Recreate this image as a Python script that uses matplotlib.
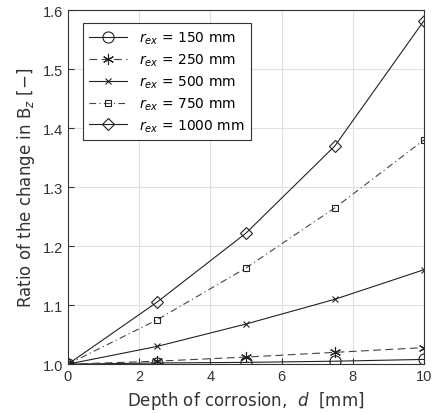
import matplotlib
matplotlib.use("Agg")
import matplotlib.pyplot as plt

plt.rcParams["font.family"] = ["DejaVu Sans"]
plt.rcParams["mathtext.fontset"] = "dejavusans"

depth = [0, 2.5, 5, 7.5, 10]
r150 = [1.0, 1.002, 1.003, 1.005, 1.008]
r250 = [1.0, 1.005, 1.012, 1.020, 1.028]
r500 = [1.0, 1.030, 1.068, 1.110, 1.160]
r750 = [1.0, 1.075, 1.163, 1.265, 1.380]
r1000 = [1.0, 1.105, 1.222, 1.370, 1.582]
labels = ["150", "250", "500", "750", "1000"]

fig = plt.figure(figsize=(4.33, 4.14), dpi=100)
ax = fig.add_axes([0.157, 0.118, 0.822, 0.855])

styles = [
    (r150, "-", "o", 8, "#222222"),
    (r250, (0, (7, 4)), (6, 2, 0), 8, "#444444"),
    (r500, "-", "x", 5, "#222222"),
    (r750, (0, (6, 3, 1, 3)), "s", 5, "#444444"),
    (r1000, "-", "D", 6.5, "#222222"),
]
for (vals, ls, mk, ms, col), lab in zip(styles, labels):
    ax.plot(depth, vals, linestyle=ls, marker=mk, markersize=ms, color=col,
            linewidth=0.8, markerfacecolor="none", markeredgecolor="#222222",
            markeredgewidth=0.8,
            label=r"$r_{ex}$" + " = " + lab + " mm")

ax.set_xlim(0, 10)
ax.set_ylim(1.0, 1.6)
ax.set_xticks([0, 2, 4, 6, 8, 10])
ax.set_yticks([1.0, 1.1, 1.2, 1.3, 1.4, 1.5, 1.6])
ax.set_yticklabels(["1.0", "1.1", "1.2", "1.3", "1.4", "1.5", "1.6"])
ax.grid(True, color="#e0e0e0", linewidth=0.8)
ax.tick_params(direction="in", labelsize=10.5, colors="#333333", length=4)
for t in ax.get_xticklabels() + ax.get_yticklabels():
    t.set_fontfamily("Liberation Sans")
for s in ax.spines.values():
    s.set_color("#333333")
    s.set_linewidth(0.8)

ax.set_xlabel(r"Depth of corrosion,  $d$  [mm]", fontsize=12, color="#333333")
ax.set_ylabel(r"Ratio of the change in B$_z$ [−]", fontsize=12, color="#333333")

leg = ax.legend(loc="upper left", bbox_to_anchor=(0.042, 0.963), borderaxespad=0,
                fontsize=10, fancybox=False, framealpha=1, edgecolor="#333333",
                handlelength=2.7, borderpad=0.45, labelspacing=0.4,
                handletextpad=0.9)
leg.get_frame().set_linewidth(0.8)

fig.savefig("out.png", dpi=100)
